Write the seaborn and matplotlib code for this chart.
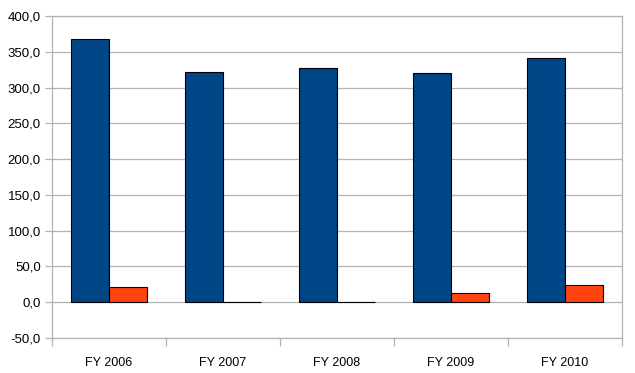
import pandas as pd
import matplotlib
matplotlib.use("Agg")
import matplotlib.pyplot as plt
import seaborn as sns
from matplotlib.ticker import FuncFormatter, FixedLocator

# Data
years = ['FY 2006', 'FY 2007', 'FY 2008', 'FY 2009', 'FY 2010']
series_a = [367.5, 321.5, 327.0, 320.0, 341.0]
series_b = [21.0, 0.0, 0.0, 12.5, 23.5]
y_ticks = [-50, 0, 50, 100, 150, 200, 250, 300, 350, 400]

df = pd.DataFrame({
    'year': years * 2,
    'value': series_a + series_b,
    'series': ['A'] * len(years) + ['B'] * len(years),
})

sns.set_style('white')
plt.rcParams['font.family'] = ['Liberation Sans', 'DejaVu Sans']

fig = plt.figure(figsize=(6.35, 3.73), dpi=100)
ax = fig.add_axes([52 / 635, 1 - 338 / 373, 570 / 635, 322 / 373])

sns.barplot(data=df, x='year', y='value', hue='series',
            palette=['#004586', '#ff420e'], saturation=1, width=0.667,
            edgecolor='black', linewidth=0.8, legend=False, ax=ax,
            zorder=3)

grid_col = '#b3b3b3'
ax.set_ylim(-50, 400)
ax.set_xlim(-0.5, len(years) - 0.5)
ax.set_yticks(y_ticks)
ax.yaxis.set_major_formatter(FuncFormatter(lambda v, p: f'{v:.1f}'.replace('.', ',')))
ax.grid(axis='y', color=grid_col, linewidth=0.9, zorder=0)
ax.set_axisbelow(True)

# x ticks at category boundaries
ax.tick_params(axis='x', which='major', bottom=True, length=0, pad=14,
               labelsize=9, labelcolor='black')
ax.xaxis.set_minor_locator(FixedLocator([i - 0.5 for i in range(len(years) + 1)]))
ax.tick_params(axis='x', which='minor', bottom=True, length=6, color=grid_col, width=0.9)
ax.tick_params(axis='y', left=True, length=5, color=grid_col, width=0.9, pad=3,
               labelsize=9.5, labelcolor='black')

for s in ax.spines.values():
    s.set_color(grid_col)
    s.set_linewidth(0.9)

ax.set_xlabel('')
ax.set_ylabel('')

fig.savefig('out.png', dpi=100, facecolor='white')
